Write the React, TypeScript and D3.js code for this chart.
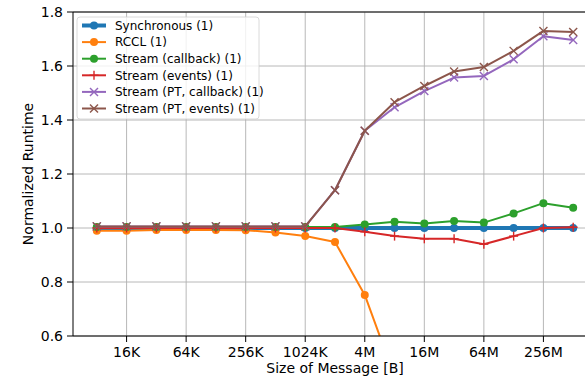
import React from 'react';
import * as d3 from 'd3';

// message sizes in bytes: 8K .. 512M
const sizes = d3.range(13, 30).map(e => Math.pow(2, e));

const syncVals = [1.0, 1.0, 1.0, 1.0, 1.0, 1.0, 1.0, 1.0, 1.0, 1.0, 1.0, 1.0, 1.0, 1.0, 1.0, 1.0, 1.0];
const rcclVals = [0.99, 0.99, 0.993, 0.993, 0.993, 0.992, 0.983, 0.97, 0.948, 0.752, 0.45, 0.3, 0.22, 0.18, 0.15, 0.13, 0.12];
const cbVals = [1.004, 1.004, 1.004, 1.004, 1.004, 1.004, 1.004, 1.004, 1.004, 1.013, 1.023, 1.017, 1.026, 1.02, 1.054, 1.092, 1.075];
const evVals = [1.0, 1.0, 1.0, 1.0, 1.0, 1.0, 1.0, 1.0, 1.0, 0.986, 0.97, 0.96, 0.96, 0.94, 0.97, 1.0, 1.003];
const ptCbVals = [1.006, 1.006, 1.006, 1.006, 1.006, 1.006, 1.006, 1.006, 1.14, 1.36, 1.447, 1.507, 1.557, 1.563, 1.625, 1.71, 1.696];
const ptEvVals = [1.006, 1.006, 1.006, 1.006, 1.006, 1.006, 1.006, 1.006, 1.14, 1.36, 1.466, 1.526, 1.58, 1.596, 1.656, 1.73, 1.726];

const xTickVals = [14, 16, 18, 20, 22, 24, 26, 28].map(e => Math.pow(2, e));
const xTickLabels = ['16K', '64K', '256K', '1024K', '4M', '16M', '64M', '256M'];
const yTicks = [0.6, 0.8, 1.0, 1.2, 1.4, 1.6, 1.8];

const seriesNames = [
  'Synchronous (1)',
  'RCCL (1)',
  'Stream (callback) (1)',
  'Stream (events) (1)',
  'Stream (PT, callback) (1)',
  'Stream (PT, events) (1)',
];

const series = [
  { name: seriesNames[0], values: syncVals, color: '#1f77b4', marker: 'o', lw: 4, ms: 4 },
  { name: seriesNames[1], values: rcclVals, color: '#ff7f0e', marker: 'o', lw: 2, ms: 4 },
  { name: seriesNames[2], values: cbVals, color: '#2ca02c', marker: 'o', lw: 2, ms: 4 },
  { name: seriesNames[3], values: evVals, color: '#d62728', marker: '+', lw: 2, ms: 4.5 },
  { name: seriesNames[4], values: ptCbVals, color: '#9467bd', marker: 'x', lw: 2, ms: 4 },
  { name: seriesNames[5], values: ptEvVals, color: '#8c564b', marker: 'x', lw: 2, ms: 4 },
];

const W = 585;
const H = 381;
const margin = { left: 73, top: 12, right: 597, bottom: 336 };
const font = 'DejaVu Sans, sans-serif';

const Marker: React.FC<{ kind: string; x: number; y: number; color: string; size: number }> = ({ kind, x, y, color, size }) => {
  if (kind === 'o') return <circle cx={x} cy={y} r={size} fill={color} />;
  if (kind === '+') {
    return (
      <g stroke={color} strokeWidth={1.4}>
        <line x1={x - size} x2={x + size} y1={y} y2={y} />
        <line x1={x} x2={x} y1={y - size} y2={y + size} />
      </g>
    );
  }
  return (
    <g stroke={color} strokeWidth={1.4}>
      <line x1={x - size} x2={x + size} y1={y - size} y2={y + size} />
      <line x1={x - size} x2={x + size} y1={y + size} y2={y - size} />
    </g>
  );
};

export default function App() {
  const x = d3.scaleLog().base(2)
    .domain([Math.pow(2, 12.2), Math.pow(2, 29.8)])
    .range([margin.left, margin.right]);
  const y = d3.scaleLinear().domain([0.6, 1.8]).range([margin.bottom, margin.top]);

  const line = d3.line<number>()
    .x((_, i) => x(sizes[i]))
    .y(d => y(d));

  return (
    <svg width={W} height={H} style={{ position: 'absolute', left: 0, top: 0, background: '#fff' }} fontFamily={font}>
      <defs>
        <clipPath id="plot-clip">
          <rect x={margin.left} y={margin.top} width={margin.right - margin.left} height={margin.bottom - margin.top} />
        </clipPath>
      </defs>

      {/* grid */}
      <g stroke="#b0b0b0" strokeWidth={0.9}>
        {xTickVals.map(v => (
          <line key={'gx' + v} x1={x(v)} x2={x(v)} y1={margin.top} y2={margin.bottom} />
        ))}
        {yTicks.map(v => (
          <line key={'gy' + v} x1={margin.left} x2={margin.right} y1={y(v)} y2={y(v)} />
        ))}
      </g>

      {/* series */}
      <g clipPath="url(#plot-clip)">
        {series.map(s => (
          <g key={s.name}>
            <path d={line(s.values) || ''} fill="none" stroke={s.color} strokeWidth={s.lw} strokeLinejoin="round" />
            {s.values.map((v, i) => (
              <Marker key={i} kind={s.marker} x={x(sizes[i])} y={y(v)} color={s.color} size={s.ms} />
            ))}
          </g>
        ))}
      </g>

      {/* spines */}
      <g stroke="#000" strokeWidth={1} fill="none">
        <line x1={margin.left} x2={margin.left} y1={margin.top} y2={margin.bottom} />
        <line x1={margin.left} x2={margin.right} y1={margin.bottom} y2={margin.bottom} />
        <line x1={margin.left} x2={margin.right} y1={margin.top} y2={margin.top} />
      </g>

      {/* y ticks */}
      <g fontSize={14} fill="#000">
        {yTicks.map(v => (
          <g key={'yt' + v}>
            <line x1={margin.left - 6} x2={margin.left} y1={y(v)} y2={y(v)} stroke="#000" strokeWidth={1} />
            <text x={margin.left - 10} y={y(v)} dy="0.36em" textAnchor="end">{v.toFixed(1)}</text>
          </g>
        ))}
      </g>

      {/* x ticks */}
      <g fontSize={14} fill="#000">
        {xTickVals.map((v, i) => (
          <g key={'xt' + v}>
            <line x1={x(v)} x2={x(v)} y1={margin.bottom} y2={margin.bottom + 6} stroke="#000" strokeWidth={1} />
            <text x={x(v)} y={margin.bottom + 21} textAnchor="middle">{xTickLabels[i]}</text>
          </g>
        ))}
      </g>

      <text x={335} y={373} textAnchor="middle" fontSize={14}>Size of Message [B]</text>
      <text transform={`translate(33, ${(margin.top + margin.bottom) / 2}) rotate(-90)`} textAnchor="middle" fontSize={14}>
        Normalized Runtime
      </text>

      {/* legend */}
      <g>
        <rect x={77} y={17} width={182} height={102} rx={3} fill="#fff" fillOpacity={0.8} stroke="#d0d0d0" strokeWidth={0.8} />
        {series.map((s, i) => {
          const ly = 25.5 + i * 16.6;
          return (
            <g key={'lg' + s.name}>
              <line x1={82} x2={106} y1={ly} y2={ly} stroke={s.color} strokeWidth={s.lw} />
              <Marker kind={s.marker} x={94} y={ly} color={s.color} size={s.ms} />
              <text x={115} y={ly} dy="0.36em" fontSize={12}>{s.name}</text>
            </g>
          );
        })}
      </g>
    </svg>
  );
}
